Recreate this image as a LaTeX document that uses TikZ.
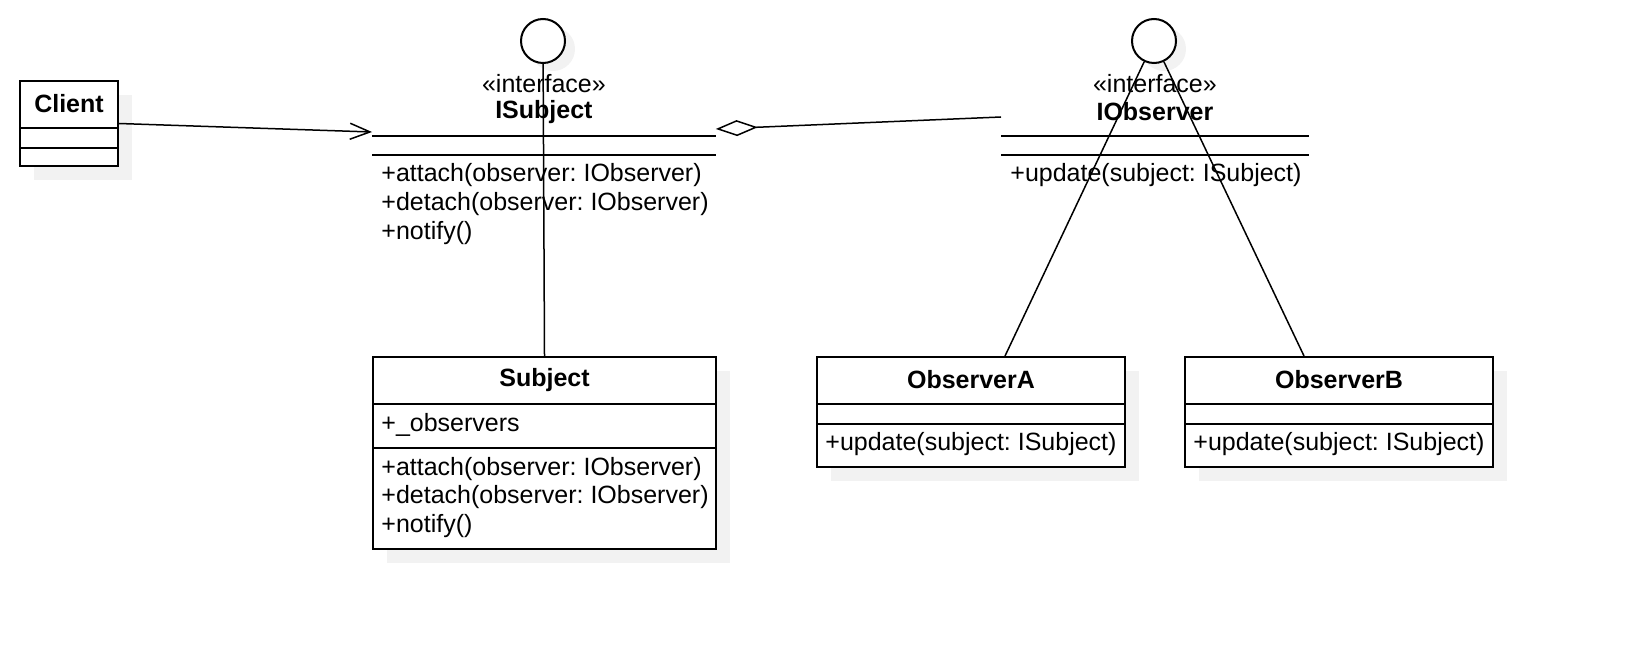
\documentclass[tikz,border=0pt]{standalone}
\usepackage{fontspec}
\setmainfont{Liberation Sans}
\frenchspacing
\usetikzlibrary{positioning,shadows,arrows.meta}
\tikzset{
 umlbox/.style={draw,line width=1pt,fill=white,inner sep=0pt,anchor=north west,
  general shadow={fill=black!5,shadow xshift=7pt,shadow yshift=-7pt}},
 lollipop/.style={circle,draw,line width=1pt,fill=white,inner sep=0pt,minimum size=22pt,
  general shadow={fill=black!5,shadow xshift=5pt,shadow yshift=-4pt}},
 ifacebody/.style={inner sep=0pt,anchor=north west},
 sep/.style={line width=1pt},
 link/.style={line width=0.75pt},
 member/.style={anchor=west,inner sep=0pt,font=\fontsize{12.5}{15}\selectfont},
 classname/.style={inner sep=0pt,font=\fontsize{12.5}{15}\selectfont\bfseries},
 stereo/.style={inner sep=0pt,font=\fontsize{12.5}{15}\selectfont},
}
\begin{document}
\begin{tikzpicture}[x=0.5pt,y=-0.5pt]
 \useasboundingbox (0,0) rectangle (1636,652);
 % Client
 \node [umlbox,minimum width=49pt,minimum height=42.5pt] (client) at (19,80) {};
 \node [classname] (client-name) at ([yshift=-12pt]client.north) {Client};
 \draw [sep] ([yshift=-24pt]client.north west) -- ([yshift=-24pt]client.north east);
 \draw [sep] ([yshift=-34pt]client.north west) -- ([yshift=-34pt]client.north east);
 % ISubject interface
 \node [lollipop] (isubject-c) at (543,41) {};
 \node [ifacebody,minimum width=171.5pt,minimum height=55pt] (isubject) at (372,136) {};
 \node [stereo] (isubject-st) at ([yshift=26pt]isubject.north) {«interface»};
 \node [classname] (isubject-name) at ([yshift=12pt]isubject.north) {ISubject};
 \draw [sep] (isubject.north west) -- (isubject.north east);
 \draw [sep] ([yshift=-9.5pt]isubject.north west) -- ([yshift=-9.5pt]isubject.north east);
 \foreach \t [count=\i] in {{+attach(observer: IObserver)},{+detach(observer: IObserver)},{+notify()}}
  \node [member] (isubject-m\i) at ([xshift=4.5pt,yshift=-5pt-14.5pt*\i]isubject.north west) {\t};
 % IObserver interface
 \node [lollipop] (iobserver-c) at (1154,41) {};
 \node [ifacebody,minimum width=153.5pt,minimum height=30pt] (iobserver) at (1001,136) {};
 \node [stereo] (iobserver-st) at ([yshift=26pt]iobserver.north) {«interface»};
 \node [classname] (iobserver-name) at ([yshift=12pt]iobserver.north) {IObserver};
 \draw [sep] (iobserver.north west) -- (iobserver.north east);
 \draw [sep] ([yshift=-9.5pt]iobserver.north west) -- ([yshift=-9.5pt]iobserver.north east);
 \node [member] (iobserver-m1) at ([xshift=4.5pt,yshift=-19.5pt]iobserver.north west) {+update(subject: ISubject)};
 % Subject
 \node [umlbox,minimum width=171.5pt,minimum height=96pt] (subject) at (372,356) {};
 \node [classname] (subject-name) at ([yshift=-12pt]subject.north) {Subject};
 \draw [sep] ([yshift=-24pt]subject.north west) -- ([yshift=-24pt]subject.north east);
 \draw [sep] ([yshift=-46pt]subject.north west) -- ([yshift=-46pt]subject.north east);
 \node [member] (subject-a1) at ([xshift=4.5pt,yshift=-34.5pt]subject.north west) {+\_observers};
 \foreach \t [count=\i] in {{+attach(observer: IObserver)},{+detach(observer: IObserver)},{+notify()}}
  \node [member] (subject-m\i) at ([xshift=4.5pt,yshift=-42pt-14.3pt*\i]subject.north west) {\t};
 % ObserverA and ObserverB
 \foreach \n/\x in {ObserverA/816,ObserverB/1184} {
  \node [umlbox,minimum width=154pt,minimum height=55pt] (\n) at (\x,356) {};
  \node [classname] (\n-name) at ([yshift=-12pt]\n.north) {\n};
  \draw [sep] ([yshift=-24pt]\n.north west) -- ([yshift=-24pt]\n.north east);
  \draw [sep] ([yshift=-34pt]\n.north west) -- ([yshift=-34pt]\n.north east);
  \node [member] (\n-m1) at ([xshift=4.5pt,yshift=-44pt]\n.north west) {+update(subject: ISubject)};
 }
 % links
 \draw [link,-{Straight Barb[length=10pt,width=8pt]}] (client.east) -- ([yshift=2pt]isubject.north west);
 \draw [link,{Diamond[open,length=21pt,width=8pt]}-] ([yshift=3.5pt]isubject.north east) -- ([yshift=9.5pt]iobserver.north west);
 \draw [link] (isubject-c) -- (subject.north);
 \draw [link] (iobserver-c) -- ([xshift=17pt]ObserverA.north);
 \draw [link] (iobserver-c) -- ([xshift=-17.5pt]ObserverB.north);
\end{tikzpicture}
\end{document}
